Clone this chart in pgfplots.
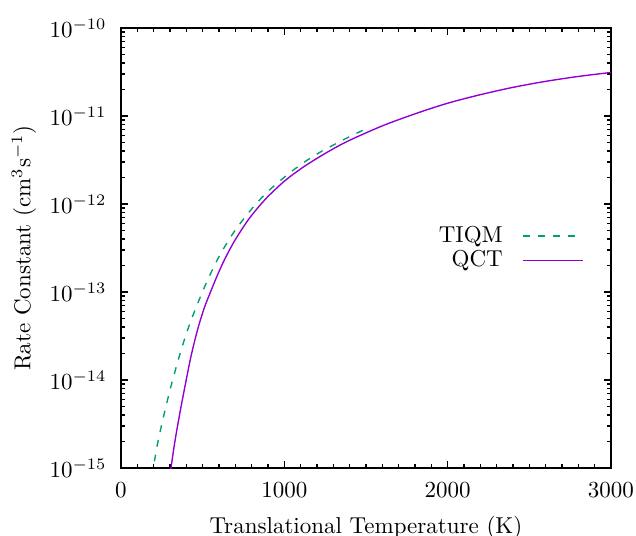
\documentclass[border=0pt]{standalone}
\usepackage{pgfplots}
\pgfplotsset{compat=1.18}
\definecolor{tiqm}{HTML}{009E73}
\definecolor{qct}{HTML}{9400D3}
\begin{document}
\begin{tikzpicture}
\begin{axis}[
  scale only axis=true,
  width=213pt, height=191.3pt,
  xmin=0, xmax=3000,
  ymode=log, ymin=1e-15, ymax=1e-10,
  xtick={0,1000,2000,3000},
  minor x tick num=9,
  /pgf/number format/1000 sep={},
  axis line style={line width=0.8pt},
  major tick length=3pt, minor tick length=1.8pt,
  every tick/.style={black, line width=0.6pt},
  xticklabel style={yshift=-3pt},
  yticklabel style={xshift=-2.8pt},
  xlabel={Translational Temperature (K)},
  ylabel={Rate Constant (cm$^3$s$^{-1}$)},
  xlabel style={at={(axis description cs:0.5,0)}, anchor=base, yshift=-28.3pt},
  ylabel style={at={(axis description cs:-0.198,0.5)}, anchor=center},
  legend plot pos=right,
  legend cell align=right,
  legend image code/.code={\draw[#1] (0pt,0pt) -- (26pt,0pt);},
  legend style={draw=none, fill=none, at={(0.945,0.5)}, anchor=east, inner sep=0pt, row sep=-2pt,
    /tikz/every odd column/.append style={column sep=6.5pt}},
]
\coordinate (bl) at (rel axis cs:0,0);
\addplot[tiqm, line width=0.6pt, dash pattern=on 3pt off 3.5pt, smooth] coordinates {
(190,8.1e-16) (198,1.00e-15) (220,1.74e-15) (245,2.88e-15) (270,4.57e-15)
(306,8.51e-15) (337,1.38e-14) (365,2.09e-14) (392,3.02e-14) (427,4.68e-14)
(459,6.61e-14) (498,1.00e-13) (545,1.57e-13) (592,2.37e-13) (643,3.47e-13)
(698,5.01e-13) (759,7.08e-13) (821,9.77e-13) (892,1.35e-12) (974,1.84e-12)
(1051,2.40e-12) (1133,3.09e-12) (1219,3.89e-12) (1310,4.79e-12) (1398,5.82e-12)
(1494,7.08e-12)
};
\addlegendentry{TIQM}
\addplot[qct, line width=0.6pt, smooth] coordinates {
(296,7.4e-16) (306,1.00e-15) (330,2.00e-15) (360,4.17e-15) (396,9.33e-15)
(430,1.91e-14) (470,3.80e-14) (510,6.61e-14) (550,1.02e-13) (590,1.55e-13)
(637,2.40e-13) (698,3.89e-13) (780,6.65e-13) (861,1.02e-12) (900,1.22e-12)
(1000,1.82e-12) (1100,2.51e-12) (1200,3.31e-12) (1300,4.25e-12) (1400,5.31e-12)
(1600,7.74e-12) (1800,1.06e-11) (2000,1.40e-11) (2200,1.75e-11) (2400,2.12e-11)
(2600,2.48e-11) (2800,2.82e-11) (3000,3.13e-11)
};
\addlegendentry{QCT}
\end{axis}
\pgfresetboundingbox
\path[use as bounding box] ([shift={(-52.6pt,-29.1pt)}]bl) rectangle ++(276.5pt,232.6pt);
\end{tikzpicture}
\end{document}
